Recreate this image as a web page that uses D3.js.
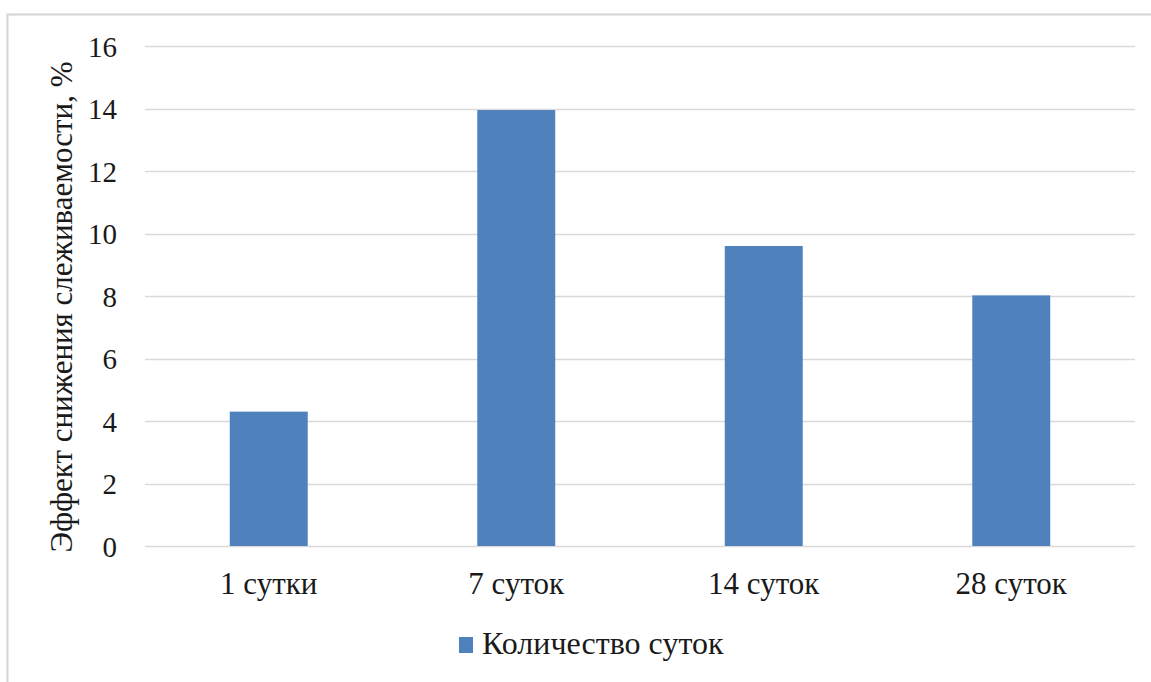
<!DOCTYPE html>
<html>
<head>
<meta charset="utf-8">
<script src="https://cdn.jsdelivr.net/npm/d3@7"></script>
<style>
  html, body { margin: 0; padding: 0; background: #fff; }
  svg { display: block; }
  svg text { font-family: "Liberation Serif", "Times New Roman", Tinos, "DejaVu Serif", serif; fill: #1a1a1a; }
</style>
</head>
<body>
<svg id="chart" width="1151" height="682"></svg>
<script>
// Chart data
const categories = ["1 сутки", "7 суток", "14 суток", "28 суток"];
const values = [4.3, 13.95, 9.6, 8.02];
const yTicks = [0, 2, 4, 6, 8, 10, 12, 14, 16];
const seriesName = "Количество суток";
const yTitle = "Эффект снижения слеживаемости, %";

const W = 1151, H = 682;
const margin = { left: 145, right: 16, top: 46, bottom: 136 };
const barColor = "#4F81BD";
const serif = '"Liberation Serif", "Times New Roman", Tinos, "DejaVu Serif", serif';

const svg = d3.select("#chart");

// Outer frame (top and left edges)
svg.append("path")
  .attr("d", `M7.5,${H} L7.5,14.5 L${W},14.5`)
  .attr("fill", "none")
  .attr("stroke", "#d4d4d4")
  .attr("stroke-width", 2);

const x = d3.scaleBand()
  .domain(categories)
  .range([margin.left, W - margin.right])
  .paddingInner(0.685)
  .paddingOuter(0.3425);

const y = d3.scaleLinear()
  .domain([0, 16])
  .range([H - margin.bottom, margin.top]);

// Horizontal gridlines
svg.append("g")
  .selectAll("line")
  .data(yTicks)
  .join("line")
  .attr("x1", margin.left)
  .attr("x2", W - margin.right)
  .attr("y1", d => Math.round(y(d)) + 0.5)
  .attr("y2", d => Math.round(y(d)) + 0.5)
  .attr("stroke", "#d9d9d9")
  .attr("stroke-width", 1.3);

// Y tick labels
const yAxis = d3.axisLeft(y).tickValues(yTicks).tickSize(0).tickPadding(0);
const gy = svg.append("g")
  .attr("transform", `translate(${margin.left - 28},0)`)
  .call(yAxis);
gy.attr("font-family", null);
gy.select(".domain").remove();
gy.selectAll("text")
  .style("font-family", serif)
  .attr("font-size", 29)
  .attr("fill", "#1a1a1a")
  .attr("dy", "0.35em");

// Bars
svg.append("g")
  .selectAll("rect")
  .data(values)
  .join("rect")
  .attr("x", (d, i) => x(categories[i]))
  .attr("width", x.bandwidth())
  .attr("y", d => y(d))
  .attr("height", d => y(0) - y(d))
  .attr("fill", barColor);

// X category labels
const xAxis = d3.axisBottom(x).tickSize(0).tickPadding(0);
const gx = svg.append("g")
  .attr("transform", `translate(0,${y(0) + 48})`)
  .call(xAxis);
gx.attr("font-family", null);
gx.select(".domain").remove();
gx.selectAll("text")
  .style("font-family", serif)
  .attr("font-size", 31)
  .attr("fill", "#1a1a1a")
  .attr("dy", "0");

// Y axis title
svg.append("text")
  .attr("transform", `translate(72,${(y(0) + y(16)) / 2 + 11}) rotate(-90)`)
  .attr("text-anchor", "middle")
  .style("font-family", serif)
  .attr("font-size", 31)
  .text(yTitle);

// Legend
const lg = svg.append("g").attr("transform", "translate(459,637)");
lg.append("rect")
  .attr("width", 14)
  .attr("height", 16)
  .attr("fill", barColor);
lg.append("text")
  .attr("x", 23)
  .attr("y", 17)
  .style("font-family", serif)
  .attr("font-size", 32)
  .text(seriesName);
</script>
</body>
</html>
